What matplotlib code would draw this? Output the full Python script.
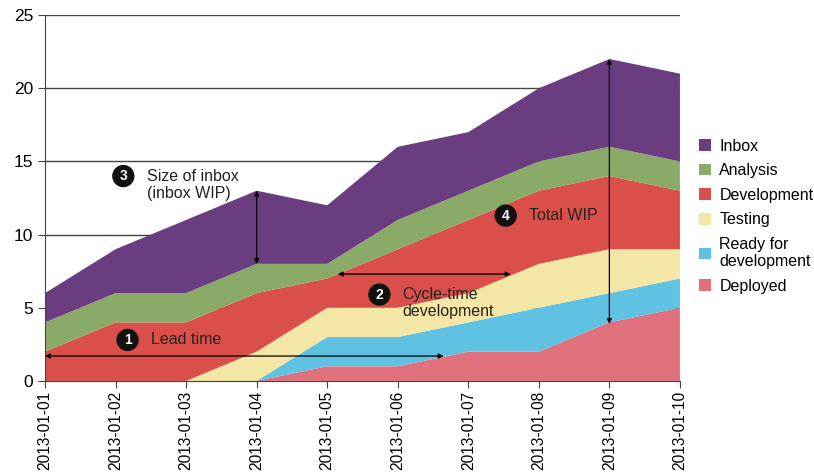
import matplotlib.pyplot as plt

dates = ['2013-01-01', '2013-01-02', '2013-01-03', '2013-01-04', '2013-01-05',
         '2013-01-06', '2013-01-07', '2013-01-08', '2013-01-09', '2013-01-10']

# per-state counts (stack order bottom -> top)
deployed = [0, 0, 0, 0, 1, 1, 2, 2, 4, 5]
ready = [0, 0, 0, 0, 2, 2, 2, 3, 2, 2]
testing = [0, 0, 0, 2, 2, 2, 2, 3, 3, 2]
development = [2, 4, 4, 4, 2, 4, 5, 5, 5, 4]
analysis = [2, 2, 2, 2, 1, 2, 2, 2, 2, 2]
inbox = [2, 3, 5, 5, 4, 5, 4, 5, 6, 6]

labels = ['Deployed', 'Ready for\ndevelopment', 'Testing', 'Development', 'Analysis', 'Inbox']
colors = ['#e0717c', '#5fc2e2', '#f4e6a4', '#da4f49', '#8aab68', '#6a3d80']

fig = plt.figure(figsize=(8.14, 4.72), dpi=100)
ax = fig.add_axes([0.0553, 0.193, 0.78, 0.775])

x = list(range(len(dates)))
polys = ax.stackplot(x, deployed, ready, testing, development, analysis, inbox,
                     colors=colors, linewidth=0, zorder=2)

ax.set_xlim(0, len(dates) - 1)
ax.set_ylim(0, 25)
ax.set_yticks([0, 5, 10, 15, 20, 25])
ax.set_xticks(x)
ax.set_xticklabels(dates, rotation=90, fontsize=11.2, family='Liberation Sans')
for t in ax.get_yticklabels():
    t.set_fontsize(12.5)
    t.set_family('Liberation Sans')
ax.yaxis.grid(True, color='#444444', linewidth=1, zorder=0)
ax.set_axisbelow(True)
for s in ['top', 'right']:
    ax.spines[s].set_visible(False)
ax.spines['left'].set_color('#444444')
ax.spines['bottom'].set_color('#444444')
ax.tick_params(color='#444444', length=5)
ax.tick_params(axis='x', pad=2)

# annotations
arrow = dict(arrowstyle='<|-|>', color='black', lw=0.9, mutation_scale=7, shrinkA=0, shrinkB=0)
ax.annotate('', xy=(0, 1.7), xytext=(5.65, 1.7), arrowprops=arrow, zorder=5)
ax.annotate('', xy=(4.15, 7.3), xytext=(6.6, 7.3), arrowprops=arrow, zorder=5)
ax.annotate('', xy=(3, 13), xytext=(3, 8), arrowprops=arrow, zorder=5)
ax.annotate('', xy=(8, 22), xytext=(8, 3.9), arrowprops=arrow, zorder=5)

circ = dict(boxstyle='circle,pad=0.3', fc='#111111', ec='none')
notes = [
    (1.17, 2.8, '1', 'Lead time'),
    (4.74, 5.9, '2', 'Cycle-time\ndevelopment'),
    (1.11, 14.0, '3', 'Size of inbox\n(inbox WIP)'),
    (6.53, 11.3, '4', 'Total WIP'),
]
for nx, ny, num, txt in notes:
    ax.text(nx, ny, num, color='white', fontsize=10, fontweight='bold', ha='center',
            va='center', bbox=circ, zorder=6, family='Liberation Sans')
    ty = ny - 0.6 if '\n' in txt else ny
    ax.text(nx + 0.33, ty, txt, fontsize=11.5, ha='left', va='center', zorder=6,
            family='Liberation Sans', color='#222222', linespacing=1.15)

handles = polys[::-1]
leg = fig.legend(handles, labels[::-1], loc='upper left', bbox_to_anchor=(0.8415, 0.737),
                 frameon=False, handlelength=0.75, handleheight=0.75, handletextpad=0.5,
                 labelspacing=0.6, prop={'family': 'Liberation Sans', 'size': 11.5})

fig.savefig('out.png', dpi=100)
